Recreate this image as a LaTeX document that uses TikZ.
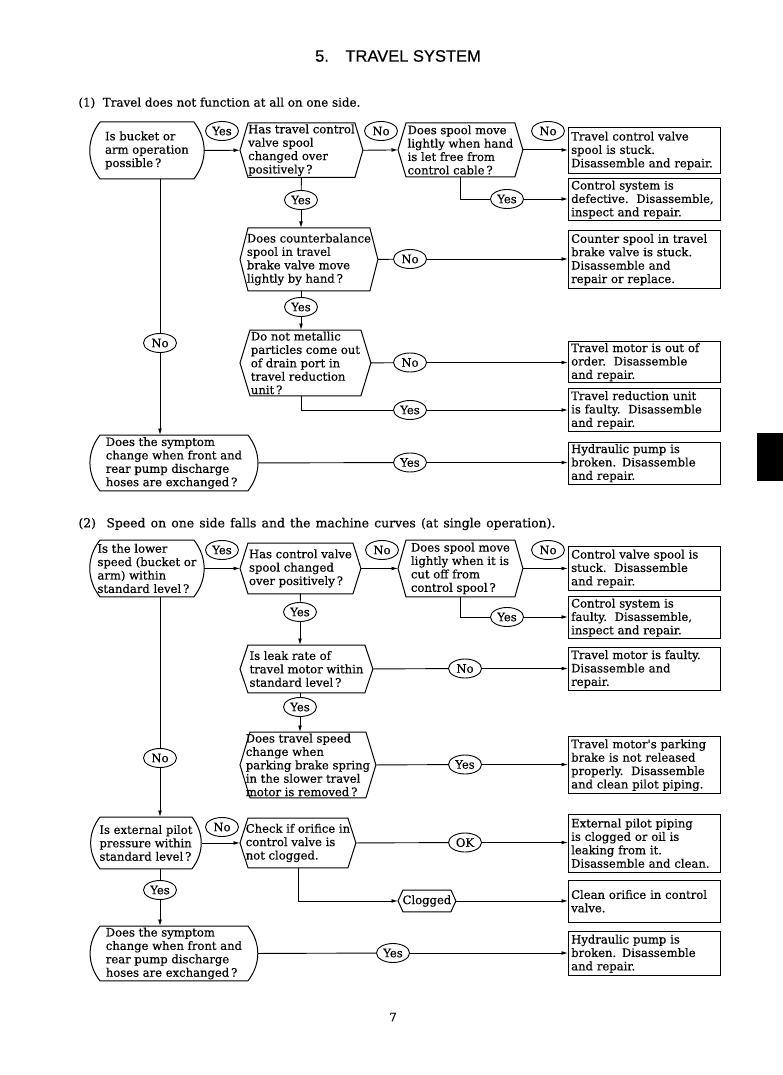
\documentclass[tikz,border=0pt]{standalone}
\usepackage{fontspec}
\setmainfont{DejaVu Serif}
\newfontfamily\bodyfont[FakeBold=0.4]{DejaVu Serif}
\newfontfamily\titlefont[FakeBold=0.6]{Liberation Sans}
\usetikzlibrary{arrows.meta,positioning,shapes.geometric}

\newcommand{\hexframe}[2][8]{%
  \draw[line width=1pt] ([xshift=#1pt]#2.north west) -- ([xshift=-#1pt]#2.north east) -- (#2.east)
    -- ([xshift=-#1pt]#2.south east) -- ([xshift=#1pt]#2.south west) -- (#2.west) -- cycle;}
\newcommand{\capframe}[1]{%
  \draw[line width=1pt] ([xshift=10pt]#1.north west) -- ([xshift=-10pt]#1.north east)
    to[bend left=38] ([xshift=-10pt]#1.south east) -- ([xshift=10pt]#1.south west)
    to[bend left=38] ([xshift=10pt]#1.north west);}

\begin{document}
\begin{tikzpicture}[x=1pt,y=-1pt,>={Latex[length=6.5pt,width=3.8pt]},line width=0.9pt,
  font=\bodyfont\fontsize{11.6}{13.4}\selectfont,
  ask/.style={anchor=north west,align=left,inner xsep=2pt,inner ysep=1pt},
  opener/.style={anchor=north west,align=left,inner xsep=4pt,inner ysep=1pt},
  fault/.style={draw,line width=1.4pt,anchor=north west,align=left,text width=147pt,inner xsep=2.5pt,inner ysep=1.5pt},
  tag/.style={draw,ellipse,inner sep=0pt,minimum width=33pt,minimum height=19pt},
  heading/.style={anchor=west,inner sep=0pt}]
\useasboundingbox[fill=white] (0,0) rectangle (783,1075);
\node[font=\titlefont\fontsize{16.5}{18}\selectfont] (title) at (398,56) {5.\quad TRAVEL SYSTEM};
\node[heading,font=\bodyfont\fontsize{11.9}{13}\selectfont] (h1) at (78,103) {(1)\ \ Travel does not function at all on one side.};
\node[heading,font=\bodyfont\fontsize{12.4}{13}\selectfont] (h2) at (78,524) {\makebox[477pt][s]{(2)\ \ Speed on one side falls and the machine curves (at single operation).}};
\fill (757,433) rectangle (783,481);

\node[opener,minimum width=113pt,minimum height=56pt] (a1) at (90,122) {Is bucket or\\arm operation\\possible\,?};
\capframe{a1}
\node[tag] (t1) at (222,131) {Yes};
\node[ask,minimum width=122pt,minimum height=53pt] (b1) at (240,123) {Has travel control\\valve spool\\changed over\\positively\,?};
\hexframe{b1}
\node[tag] (t2) at (381,131) {No};
\node[ask,minimum width=124pt,minimum height=53pt] (c1) at (398,123) {Does spool move\\lightly when hand\\is let free from\\control cable\,?};
\hexframe{c1}
\node[tag] (t3) at (548,131) {No};
\node[fault,minimum height=46pt] (r1) at (568,127) {Travel control valve\\spool is stuck.\\Disassemble and repair.};
\node[tag] (t4) at (507,199) {Yes};
\node[fault,minimum height=42pt] (r2) at (568,178) {Control system is\\defective.\ \ Disassemble,\\inspect and repair.};
\node[tag] (t5) at (301,200) {Yes};
\node[ask,minimum width=137pt,minimum height=62pt] (d1) at (240,228) {Does counterbalance\\spool in travel\\brake valve move\\lightly by hand\,?};
\hexframe{d1}
\node[tag] (t6) at (410,259) {No};
\node[fault,minimum height=58pt] (r3) at (568,230) {Counter spool in travel\\brake valve is stuck.\\Disassemble and\\repair or replace.};
\node[tag] (t7) at (301,307) {Yes};
\node[ask,minimum width=130pt,minimum height=65pt] (e1) at (240,330) {Do not metallic\\particles come out\\of drain port in\\travel reduction\\unit\,?};
\hexframe[10]{e1}
\node[tag] (t8) at (410,362.5) {No};
\node[fault,minimum height=40pt] (r4) at (568,341) {Travel motor is out of\\order.\ \ Disassemble\\and repair.};
\node[tag] (t9) at (410,410) {Yes};
\node[fault,minimum height=43pt] (r5) at (568,388) {Travel reduction unit\\is faulty.\ \ Disassemble\\and repair.};
\node[tag] (t10) at (160,343) {No};
\node[opener,minimum width=167pt,minimum height=55pt] (f1) at (90,435) {Does the symptom\\change when front and\\rear pump discharge\\hoses are exchanged\,?};
\capframe{f1}
\node[tag] (t11) at (410,462.5) {Yes};
\node[fault,minimum height=42pt] (r6) at (568,441.5) {Hydraulic pump is\\broken. Disassemble\\and repair.};

\draw[->] (a1.east) -- (b1.west);
\draw[->] (b1.east) -- (c1.west);
\draw[->] (c1.east) -- (c1.east -| r1.west);
\draw (c1.south) |- (t4);
\draw[->] (t4) -- (t4 -| r2.west);
\draw (b1.south) -- (t5);
\draw[->] (t5) -- (t5 |- d1.north);
\draw (d1.east) -- (t6);
\draw[->] (t6) -- (t6 -| r3.west);
\draw (t7 |- d1.south) -- (t7);
\draw[->] (t7) -- (t7 |- e1.north);
\draw (e1.east) -- (t8);
\draw[->] (t8) -- (t8 -| r4.west);
\draw (t7 |- e1.south) |- (t9);
\draw[->] (t9) -- (t9 -| r5.west);
\draw (a1.south -| t10) -- (t10);
\draw[->] (t10) -- (t10 |- f1.north);
\draw (f1.east) -- (t11);
\draw[->] (t11) -- (t11 -| r6.west);

\node[opener,minimum width=113pt,minimum height=56pt] (a2) at (90,540) {Is the lower\\speed (bucket or\\arm) within\\standard level\,?};
\capframe{a2}
\node[tag] (t12) at (222,550) {Yes};
\node[ask,minimum width=120pt,minimum height=50pt] (b2) at (240,543) {Has control valve\\spool changed\\over positively\,?};
\hexframe{b2}
\node[tag] (t13) at (382,550) {No};
\node[ask,minimum width=124pt,minimum height=56pt] (c2) at (398,540) {Does spool move\\lightly when it is\\cut off from\\control spool\,?};
\hexframe{c2}
\node[tag] (t14) at (548,550) {No};
\node[fault,minimum height=44pt] (r7) at (568,546) {Control valve spool is\\stuck.\ \ Disassemble\\and repair.};
\node[tag] (t15) at (507,617) {Yes};
\node[fault,minimum height=42pt] (r8) at (568,596) {Control system is\\faulty.\ \ Disassemble,\\inspect and repair.};
\node[tag] (t16) at (300,612) {Yes};
\node[ask,minimum width=132pt,minimum height=47pt] (d2) at (240,645) {Is leak rate of\\travel motor within\\standard level\,?};
\hexframe{d2}
\node[tag] (t17) at (465,668.5) {No};
\node[fault,minimum height=43pt] (r9) at (568,647) {Travel motor is faulty.\\Disassemble and\\repair.};
\node[tag] (t18) at (300,707) {Yes};
\node[ask,minimum width=135pt,minimum height=65pt] (e2) at (240,732) {Does travel speed\\change when\\parking brake spring\\in the slower travel\\motor is removed\,?};
\hexframe[10]{e2}
\node[tag] (t19) at (465,764.5) {Yes};
\node[fault,minimum height=57pt] (r10) at (568,736) {Travel motor's parking\\brake is not released\\properly.\ \ Disassemble\\and clean pilot piping.};
\node[tag] (t20) at (160,758) {No};
\node[opener,minimum width=111pt,minimum height=51pt] (g2) at (90,817) {Is external pilot\\pressure within\\standard level\,?};
\capframe{g2}
\node[tag] (t21) at (222,827) {No};
\node[ask,minimum width=115pt,minimum height=49pt] (h2) at (240,818) {Check if orifice in\\control valve is\\not clogged.};
\hexframe{h2}
\node[tag] (t22) at (465,842.5) {OK};
\node[fault,minimum height=58pt] (r11) at (568,813.5) {External pilot piping\\is clogged or oil is\\leaking from it.\\Disassemble and clean.};
\node[ask,minimum width=57pt,minimum height=21pt] (cl) at (398,890) {Clogged};
\hexframe[5]{cl}
\node[fault,minimum height=42pt] (r12) at (568,879.5) {Clean orifice in control\\valve.};
\node[tag] (t23) at (160,890) {Yes};
\node[opener,minimum width=167pt,minimum height=54pt] (f2) at (90,926) {Does the symptom\\change when front and\\rear pump discharge\\hoses are exchanged\,?};
\capframe{f2}
\node[tag] (t24) at (393,953) {Yes};
\node[fault,minimum height=44pt] (r13) at (568,931) {Hydraulic pump is\\broken. Disassemble\\and repair.};

\draw[->] (a2.east) -- (b2.west);
\draw[->] (b2.east) -- (c2.west);
\draw[->] (c2.east) -- (c2.east -| r7.west);
\draw (c2.south) |- (t15);
\draw[->] (t15) -- (t15 -| r8.west);
\draw (b2.south) -- (t16);
\draw[->] (t16) -- (t16 |- d2.north);
\draw (d2.east) -- (t17);
\draw[->] (t17) -- (t17 -| r9.west);
\draw (t18 |- d2.south) -- (t18);
\draw[->] (t18) -- (t18 |- e2.north);
\draw (e2.east) -- (t19);
\draw[->] (t19) -- (t19 -| r10.west);
\draw (a2.south -| t20) -- (t20);
\draw[->] (t20) -- (t20 |- g2.north);
\draw[->] (g2.east) -- (h2.west);
\draw (h2.east) -- (t22);
\draw[->] (t22) -- (t22 -| r11.west);
\draw[->] (h2.south) |- (cl.west);
\draw[->] (cl.east) -- (cl.east -| r12.west);
\draw (g2.south -| t23) -- (t23);
\draw[->] (t23) -- (t23 |- f2.north);
\draw (f2.east) -- (t24);
\draw[->] (t24) -- (t24 -| r13.west);

\node (page) at (393,1017) {7};
\end{tikzpicture}
\end{document}
